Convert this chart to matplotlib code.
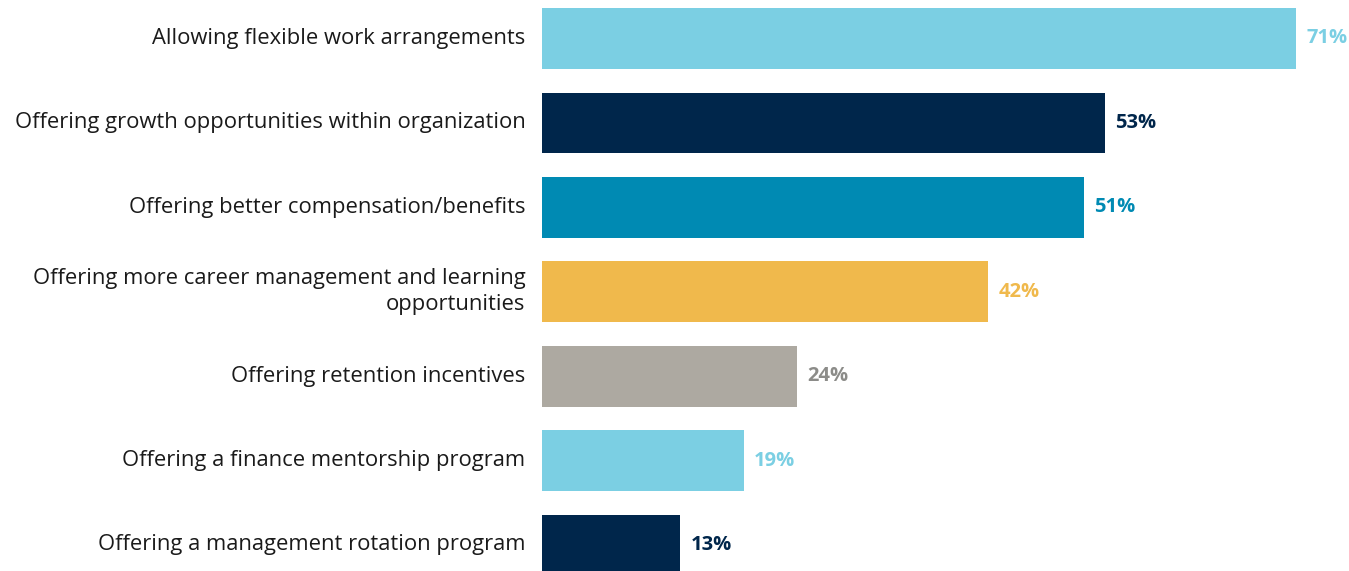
import matplotlib.pyplot as plt

categories = [
    "Allowing flexible work arrangements",
    "Offering growth opportunities within organization",
    "Offering better compensation/benefits",
    "Offering more career management and learning\nopportunities",
    "Offering retention incentives",
    "Offering a finance mentorship program",
    "Offering a management rotation program",
]
values = [71, 53, 51, 42, 24, 19, 13]
bar_colors = ["#7BCFE3", "#00264B", "#008AB3", "#F0B94C", "#ADA9A1", "#7BCFE3", "#00264B"]
label_colors = ["#7BCFE3", "#00264B", "#008AB3", "#F0B94C", "#8C8C89", "#7BCFE3", "#00264B"]

plt.rcParams['font.family'] = ['Open Sans', 'DejaVu Sans']

fig = plt.figure(figsize=(13.49, 5.71), dpi=100)
ax = fig.add_axes([542 / 1349, 0, 1 - 542 / 1349, 1])

y = list(range(len(values)))
ax.barh(y, values, height=0.72, color=bar_colors)
ax.set_xlim(0, 76)
ax.set_ylim(6.308, -0.456)

for yi, v, c in zip(y, values, label_colors):
    ax.annotate(f"{v}%", (v, yi), xytext=(7.5, 0), textcoords="offset points",
                ha="left", va="center", fontsize=14.5, fontweight="bold", color=c,
                annotation_clip=False)

for yi, cat in zip(y, categories):
    ax.annotate(cat, (0, yi), xytext=(-12, 0), textcoords="offset points",
                ha="right", va="center", fontsize=15.8, color="#1a1a1a",
                linespacing=1.3, annotation_clip=False)

ax.axis("off")
fig.savefig("out.png", dpi=100)
